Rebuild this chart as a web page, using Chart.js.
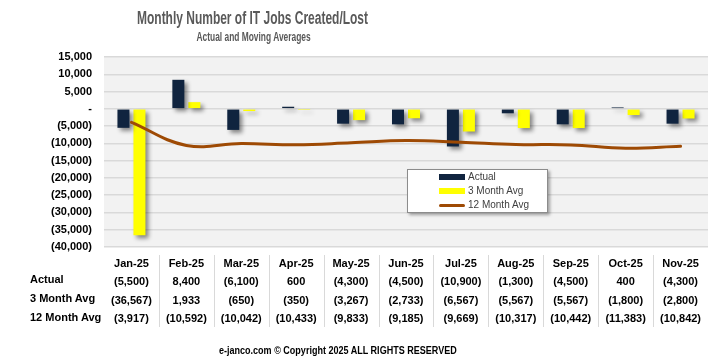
<!DOCTYPE html>
<html>
<head>
<meta charset="utf-8">
<script src="https://cdn.jsdelivr.net/npm/chart.js@4.4.1/dist/chart.umd.min.js"></script>
<style>
  html, body { margin: 0; padding: 0; background: #fff; }
  body { width: 717px; height: 359px; position: relative; overflow: hidden; font-family: "Liberation Sans", Arial, sans-serif; }
  #wrap { position: absolute; left: 0; top: 0; width: 717px; height: 359px; }
  .abs { position: absolute; white-space: nowrap; font-weight: bold; }
  .fit { display: inline-block; transform-origin: center center; }
  #title { font-size: 18px; color: #595959; }
  #subtitle { font-size: 12px; color: #595959; }
  #footer { font-size: 11px; color: #000; }
  .rowlabel { left: 30px; font-size: 11px; color: #000; line-height: 14px; }
  #legend { position: absolute; left: 407px; top: 169px; width: 139px; height: 42px; background: #fff; border: 1px solid #8c8c8c; box-shadow: 2px 2px 3px rgba(0,0,0,0.35); }
  .leg { position: absolute; left: 31px; font-size: 10px; color: #404040; line-height: 12px; white-space: nowrap; }
  .sw { position: absolute; left: 0; width: 26px; }
  .leg span.t { position: absolute; left: 29px; top: 0; }
</style>
</head>
<body>
<div id="wrap"><canvas id="chart" width="717" height="359"></canvas></div>
<div class="abs fit" id="title">Monthly Number of IT Jobs Created/Lost</div>
<div class="abs fit" id="subtitle">Actual and Moving Averages</div>
<div class="abs rowlabel" style="top:272px">Actual</div>
<div class="abs rowlabel" style="top:291px">3 Month Avg</div>
<div class="abs rowlabel" style="top:310px">12 Month Avg</div>
<div id="legend"></div>
<div class="abs fit" id="footer">e-janco.com © Copyright 2025 ALL RIGHTS RESERVED</div>
<script>
const months = ["Jan-25", "Feb-25", "Mar-25", "Apr-25", "May-25", "Jun-25", "Jul-25", "Aug-25", "Sep-25", "Oct-25", "Nov-25"];
const actual = [-5500, 8400, -6100, 600, -4300, -4500, -10900, -1300, -4500, 400, -4300];
const avg3 = [-36567, 1933, -650, -350, -3267, -2733, -6567, -5567, -5567, -1800, -2800];
const avg12 = [-3917, -10592, -10042, -10433, -9833, -9185, -9669, -10317, -10442, -11383, -10842];
const yTicks = [15000, 10000, 5000, 0, -5000, -10000, -15000, -20000, -25000, -30000, -35000, -40000];

const colors = { actual: "#10243f", avg3: "#ffff00", avg12: "#9e4a04", plotBg: "#f2f2f2", grid: "#d9d9d9" };
const FONT = "'Liberation Sans', Arial, sans-serif";

function fmt(v) {
  if (v === 0) return "-";
  const s = Math.abs(v).toLocaleString("en-US");
  return v < 0 ? `(${s})` : s;
}

// squeeze html text to the width it has in the picture (calibri is narrow)
function fitText(id, centerX, centerY, width) {
  const el = document.getElementById(id);
  const w = el.offsetWidth;
  const h = el.offsetHeight;
  el.style.left = `${centerX - w / 2}px`;
  el.style.top = `${centerY - h / 2}px`;
  el.style.transform = `scaleX(${width / w})`;
}
fitText("title", 252.5, 18, 231);
fitText("subtitle", 253, 37, 114);
fitText("footer", 338, 350, 238);

// legend (html)
const legendItems = [
  { label: "Actual", type: "box", color: colors.actual },
  { label: "3 Month Avg", type: "box", color: colors.avg3 },
  { label: "12 Month Avg", type: "line", color: colors.avg12 },
];
document.getElementById("legend").innerHTML = legendItems.map((item, i) => {
  const top = 1 + i * 14;
  const sw = item.type === "box"
    ? `<div class="sw" style="top:3px;height:6px;background:${item.color}"></div>`
    : `<div class="sw" style="top:5px;height:3px;border-radius:2px;background:${item.color}"></div>`;
  return `<div class="leg" style="top:${top}px">${sw}<span class="t">${item.label}</span></div>`;
}).join("");

const plotBg = {
  id: "plotBg",
  beforeDraw(chart) {
    const { ctx, chartArea: a } = chart;
    ctx.save();
    ctx.fillStyle = colors.plotBg;
    ctx.fillRect(a.left, a.top, a.right - a.left, a.bottom - a.top);
    ctx.restore();
  },
};

const barShadow = {
  id: "barShadow",
  beforeDatasetDraw(chart, args) {
    if (args.meta.type !== "bar") return;
    const ctx = chart.ctx;
    ctx.save();
    ctx.shadowColor = "rgba(0,0,0,0.45)";
    ctx.shadowBlur = 4;
    ctx.shadowOffsetX = 3;
    ctx.shadowOffsetY = 3;
  },
  afterDatasetDraw(chart, args) {
    if (args.meta.type !== "bar") return;
    chart.ctx.restore();
  },
};

const tableLines = {
  id: "tableLines",
  afterDraw(chart) {
    const { ctx, scales: { x } } = chart;
    ctx.save();
    ctx.strokeStyle = "#d9d9d9";
    ctx.lineWidth = 1;
    for (let i = 0; i < months.length - 1; i++) {
      const px = Math.round((x.getPixelForValue(i) + x.getPixelForValue(i + 1)) / 2) + 0.5;
      ctx.beginPath();
      ctx.moveTo(px, 255);
      ctx.lineTo(px, 327);
      ctx.stroke();
    }
    ctx.restore();
  },
};

new Chart(document.getElementById("chart"), {
  data: {
    labels: months.map((m, i) => [m, fmt(actual[i]), fmt(avg3[i]), fmt(avg12[i])]),
    datasets: [
      { type: "line", label: "12 Month Avg", data: avg12, borderColor: colors.avg12, borderWidth: 3, pointRadius: 0, tension: 0.4, borderCapStyle: "round", order: 0 },
      { type: "bar", label: "Actual", data: actual, backgroundColor: colors.actual, categoryPercentage: 0.583, barPercentage: 0.75, order: 1 },
      { type: "bar", label: "3 Month Avg", data: avg3, backgroundColor: colors.avg3, categoryPercentage: 0.583, barPercentage: 0.75, order: 1 },
    ],
  },
  options: {
    responsive: false,
    animation: false,
    layout: { padding: { left: 0, right: 9, top: 57, bottom: 0 } },
    plugins: { legend: { display: false }, tooltip: { enabled: false } },
    scales: {
      x: {
        grid: { display: false },
        border: { display: false },
        ticks: { color: "#000", font: { family: FONT, size: 11, weight: "bold", lineHeight: "18.3px" }, padding: 0, maxRotation: 0, autoSkip: false },
        afterFit(scale) { scale.height = 112; },
      },
      y: {
        min: -40000,
        max: 15000,
        afterBuildTicks(scale) { scale.ticks = yTicks.map((v) => ({ value: v })); },
        grid: { color: colors.grid, drawTicks: false, lineWidth: 1.5 },
        border: { display: false },
        ticks: { color: "#000", font: { family: FONT, size: 11, weight: "bold" }, padding: 12, autoSkip: false, callback: (v) => fmt(v) },
        afterFit(scale) { scale.width = 104; },
      },
    },
  },
  plugins: [plotBg, barShadow, tableLines],
});
</script>
</body>
</html>
